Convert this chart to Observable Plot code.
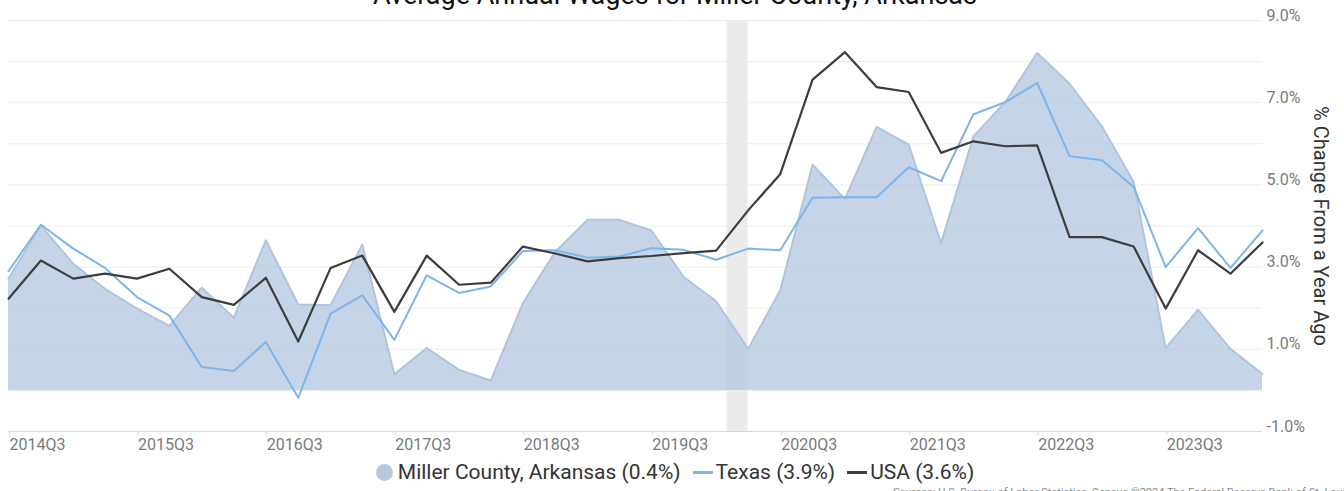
<!DOCTYPE html>
<html>
<head>
<meta charset="utf-8">
<script src="https://cdn.jsdelivr.net/npm/d3@7"></script>
<script src="https://cdn.jsdelivr.net/npm/@observablehq/plot@0.6"></script>
<style>
  html, body { margin: 0; padding: 0; background: #fff; }
  #wrap { position: relative; width: 1344px; height: 491px; overflow: hidden; font-family: Roboto, "Liberation Sans", sans-serif; }
  #title { position: absolute; left: 0; width: 1350px; top: -18px; text-align: center; font-size: 27px; line-height: 27px; color: #111; white-space: nowrap; }
  #chart { position: absolute; left: 0; top: 0; }
  #legend { position: absolute; left: 3px; width: 1344px; top: 459px; display: flex; justify-content: center; align-items: center; font-size: 21px; line-height: 26px; color: #333; white-space: nowrap; }
  .item { display: flex; align-items: center; margin: 0 6px; }
  .dot { width: 17px; height: 17px; border-radius: 50%; background: #b7c8dd; margin-right: 5px; }
  .ln { width: 20px; height: 3px; margin-right: 3px; }
  #caption { position: absolute; left: 893px; top: 486px; font-size: 11px; color: #888; white-space: nowrap; }
</style>
</head>
<body>
<div id="wrap">
  <div id="chart"></div>
  <div id="title">Average Annual Wages for Miller County, Arkansas</div>
  <div id="legend"></div>
  <div id="caption">Sources: U.S. Bureau of Labor Statistics, Census   ©2024 The Federal Reserve Bank of St. Louis   fred.stlouisfed.org</div>
</div>
<script>
const quarters = [
  "2014Q3","2014Q4","2015Q1","2015Q2","2015Q3","2015Q4","2016Q1","2016Q2",
  "2016Q3","2016Q4","2017Q1","2017Q2","2017Q3","2017Q4","2018Q1","2018Q2",
  "2018Q3","2018Q4","2019Q1","2019Q2","2019Q3","2019Q4","2020Q1","2020Q2",
  "2020Q3","2020Q4","2021Q1","2021Q2","2021Q3","2021Q4","2022Q1","2022Q2",
  "2022Q3","2022Q4","2023Q1","2023Q2","2023Q3","2023Q4","2024Q1","2024Q2"
];
const miller = [
  2.72, 4.01, 3.08, 2.47, 1.99, 1.57, 2.50, 1.77,
  3.65, 2.09, 2.07, 3.55, 0.39, 1.03, 0.50, 0.24,
  2.12, 3.37, 4.15, 4.15, 3.89, 2.76, 2.17, 1.01,
  2.43, 5.49, 4.66, 6.41, 5.98, 3.58, 6.18, 7.01,
  8.21, 7.46, 6.42, 5.07, 1.03, 1.96, 1.01, 0.40
];
const texas = [
  2.90, 4.03, 3.45, 2.98, 2.27, 1.82, 0.57, 0.47,
  1.18, -0.18, 1.87, 2.31, 1.23, 2.80, 2.37, 2.53,
  3.39, 3.41, 3.23, 3.26, 3.46, 3.42, 3.18, 3.45,
  3.41, 4.69, 4.70, 4.70, 5.43, 5.09, 6.72, 7.01,
  7.48, 5.70, 5.60, 4.95, 3.00, 3.95, 2.98, 3.89
];
const usa = [
  2.23, 3.16, 2.72, 2.84, 2.72, 2.96, 2.27, 2.08,
  2.74, 1.19, 2.98, 3.28, 1.91, 3.28, 2.57, 2.62,
  3.50, 3.33, 3.14, 3.22, 3.27, 3.34, 3.40, 4.38,
  5.26, 7.56, 8.23, 7.38, 7.26, 5.78, 6.06, 5.94,
  5.96, 3.73, 3.73, 3.50, 1.99, 3.41, 2.84, 3.60
];
const xTickLabels = ["2014Q3","2015Q3","2016Q3","2017Q3","2018Q3","2019Q3","2020Q3","2021Q3","2022Q3","2023Q3"];
const yTickValues = [-1, 1, 3, 5, 7, 9];
const gridValues = [0, 1, 2, 3, 4, 5, 6, 7, 8, 9];
const recessions = [{start: "2020-02-01", end: "2020-04-01"}];
const seriesNames = ["Miller County, Arkansas", "Texas", "USA"];
const seriesColors = ["#b7c8dd", "#7cb5ec", "#3d3d3d"];

function qDate(q) {
  const y = +q.slice(0, 4), n = +q.slice(5);
  return new Date(Date.UTC(y, (n - 1) * 3, 1));
}
const rows = quarters.map((q, i) => ({date: qDate(q), label: q, miller: miller[i], texas: texas[i], usa: usa[i]}));
const recRows = recessions.map(r => ({x1: new Date(r.start), x2: new Date(r.end)}));

const chart = Plot.plot({
  width: 1344,
  height: 458,
  marginLeft: 8,
  marginRight: 82,
  marginTop: 20,
  marginBottom: 27,
  x: {type: "utc", domain: [qDate(quarters[0]), qDate(quarters[quarters.length - 1])]},
  y: {domain: [-1, 9]},
  style: {fontFamily: "Roboto, 'Liberation Sans', sans-serif", background: "#fff"},
  marks: [
    Plot.rect(recRows, {x1: "x1", x2: "x2", y1: -1, y2: 9, fill: "#ebebeb"}),
    Plot.ruleY(gridValues, {stroke: "#ececec", strokeWidth: 1}),
    Plot.areaY(rows, {x: "date", y1: 0, y2: "miller", fill: "#b0c4de", fillOpacity: 0.72}),
    Plot.lineY(rows, {x: "date", y: "miller", stroke: "#b0c4de", strokeWidth: 2}),
    Plot.ruleY([-1], {stroke: "#ccd6eb", strokeWidth: 1}),
    Plot.lineY(rows, {x: "date", y: "texas", stroke: "#7cb5ec", strokeWidth: 2}),
    Plot.lineY(rows, {x: "date", y: "usa", stroke: "#3d3d3d", strokeWidth: 2.2}),
    Plot.axisX({
      ticks: xTickLabels.map(qDate),
      tickFormat: d => xTickLabels.find(l => +qDate(l) === +d),
      textAnchor: "start",
      tickSize: 4,
      tickPadding: 3,
      dx: 1,
      stroke: "#ccd6eb",
      fill: "#7a7a7a",
      fontSize: 16,
      label: null
    }),
    Plot.axisY({
      anchor: "right",
      ticks: yTickValues,
      tickSize: 0,
      tickPadding: 4,
      dy: -5,
      tickFormat: d => d.toFixed(1) + "%",
      fill: "#7a7a7a",
      fontSize: 16,
      label: null
    }),
    Plot.text(["% Change From a Year Ago"], {
      frameAnchor: "right",
      dx: 58,
      rotate: 90,
      fontSize: 20,
      fill: "#333",
      textAnchor: "middle"
    })
  ]
});
document.getElementById("chart").appendChild(chart);

const lastVals = [miller, texas, usa].map(a => a[a.length - 1].toFixed(1));
const legend = document.getElementById("legend");
seriesNames.forEach((name, i) => {
  const item = document.createElement("div");
  item.className = "item";
  const sw = document.createElement("div");
  sw.className = i === 0 ? "dot" : "ln";
  sw.style.background = seriesColors[i];
  const t = document.createElement("span");
  t.textContent = `${name} (${lastVals[i]}%)`;
  item.appendChild(sw);
  item.appendChild(t);
  legend.appendChild(item);
});
</script>
</body>
</html>
